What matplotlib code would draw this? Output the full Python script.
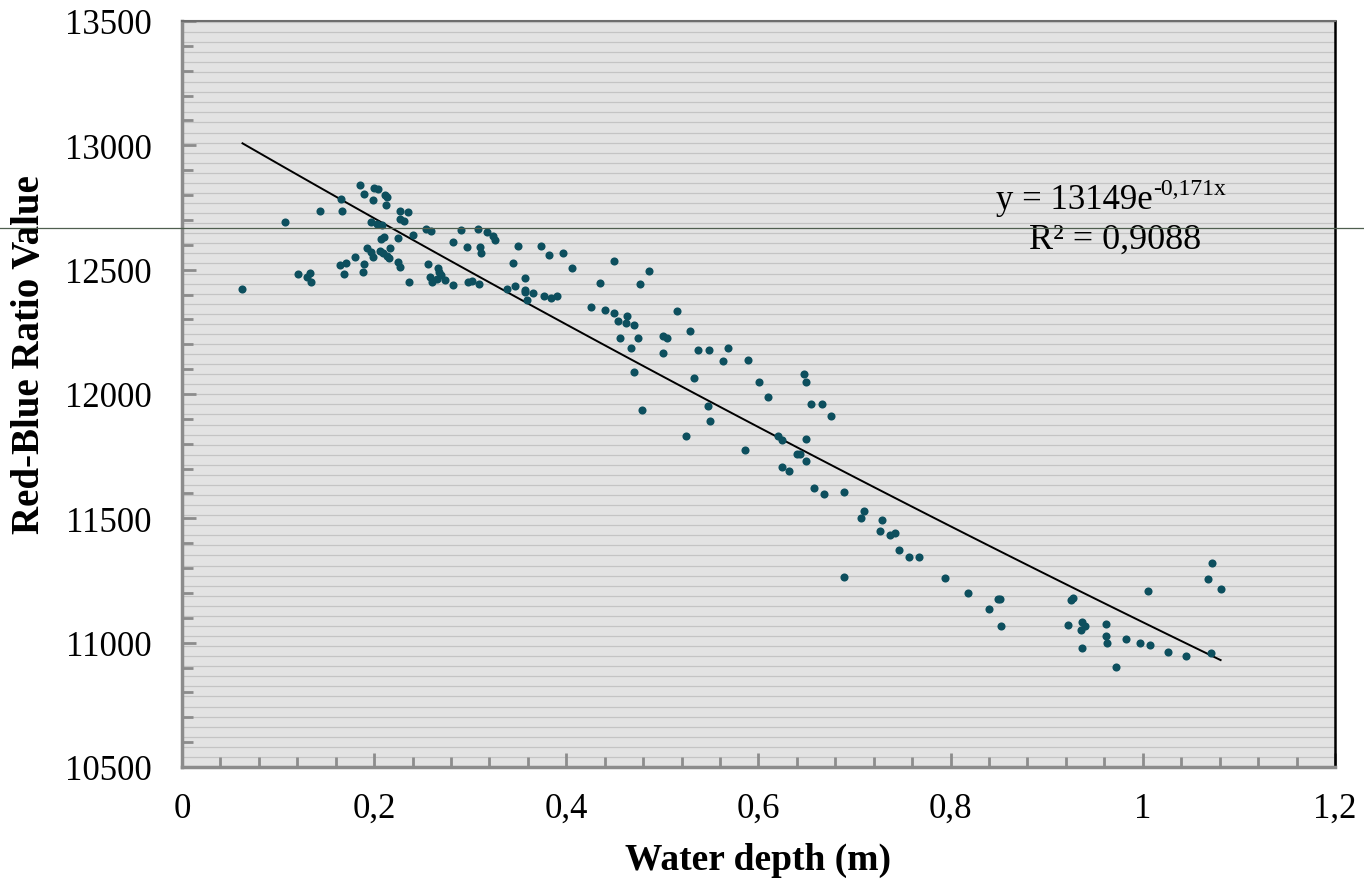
import numpy as np
import matplotlib.pyplot as plt
from matplotlib.lines import Line2D
from matplotlib.ticker import MultipleLocator

plt.rcParams['font.family'] = ['Liberation Serif', 'DejaVu Serif']

# water depth (m) and red-blue ratio values
depth = [0.063, 0.107, 0.121, 0.130, 0.133, 0.134, 0.144, 0.166, 0.167, 0.164,
         0.171, 0.169, 0.180, 0.185, 0.189, 0.189, 0.188, 0.193, 0.197, 0.199,
         0.197, 0.203, 0.208, 0.199, 0.200, 0.204, 0.211, 0.213, 0.212, 0.207,
         0.210, 0.206, 0.209, 0.213, 0.215, 0.217, 0.225, 0.227, 0.235, 0.227,
         0.231, 0.225, 0.227, 0.236, 0.240, 0.259, 0.254, 0.290, 0.318, 0.324,
         0.326, 0.308, 0.282, 0.297, 0.310, 0.311, 0.350, 0.374, 0.382, 0.397,
         0.345, 0.406, 0.256, 0.266, 0.268, 0.270, 0.274, 0.265, 0.258, 0.260,
         0.282, 0.298, 0.302, 0.309, 0.338, 0.347, 0.357, 0.357, 0.357, 0.365,
         0.359, 0.377, 0.384, 0.390, 0.450, 0.486, 0.435, 0.477, 0.426, 0.440,
         0.450, 0.463, 0.454, 0.462, 0.470, 0.456, 0.475, 0.467, 0.501, 0.505,
         0.501, 0.515, 0.529, 0.537, 0.533, 0.470, 0.479, 0.525, 0.549, 0.568,
         0.563, 0.589, 0.601, 0.548, 0.550, 0.586,
         0.610, 0.620, 0.625, 0.625, 0.632, 0.640, 0.643, 0.647, 0.649, 0.649,
         0.650, 0.655, 0.666, 0.676,
         0.658, 0.668, 0.689, 0.710, 0.707, 0.729, 0.727, 0.737, 0.742, 0.746,
         0.757, 0.767, 0.689, 0.794, 0.818, 0.840, 0.849, 0.851, 0.852, 0.922,
         0.925, 0.927, 0.937, 0.940, 0.936, 0.962, 0.962, 0.963, 0.937, 0.972,
         0.983, 0.997, 1.007, 1.026, 1.045, 1.071, 1.005, 1.068, 1.072, 1.081]
ratio = [12422, 12692, 12481, 12469, 12487, 12449, 12736, 12784, 12736, 12519,
         12527, 12484, 12551, 12840, 12803, 12523, 12489, 12588, 12572, 12550,
         12690, 12684, 12680, 12780, 12827, 12824, 12800, 12791, 12761, 12623,
         12631, 12576, 12567, 12556, 12546, 12588, 12626, 12736, 12731, 12704,
         12696, 12530, 12510, 12449, 12639, 12657, 12664, 12661, 12650, 12637,
         12619, 12664, 12610, 12591, 12590, 12568, 12596, 12596, 12559, 12567,
         12527, 12506, 12522, 12506, 12492, 12480, 12460, 12462, 12469, 12452,
         12440, 12452, 12453, 12441, 12422, 12434, 12467, 12418, 12409, 12407,
         12378, 12393, 12386, 12394, 12534, 12496, 12446, 12441, 12349, 12337,
         12325, 12314, 12295, 12287, 12279, 12225, 12225, 12186, 12232, 12226,
         12165, 12333, 12252, 12177, 12063, 12090, 11934, 11832, 12177, 12184,
         12133, 12137, 12049, 11953, 11891, 11776,
         11988, 11831, 11815, 11705, 11690, 11760, 11760, 12080, 12050, 11820,
         11730, 11960, 11960, 11910,
         11622, 11598, 11607, 11530, 11500, 11492, 11450, 11433, 11440, 11374,
         11345, 11343, 11263, 11260, 11200, 11137, 11174, 11176, 11066, 11071,
         11172, 11180, 11084, 11068, 11050, 11074, 11028, 10997, 10979, 10903,
         11014, 10999, 10992, 10964, 10948, 10959, 11208, 11257, 11322, 11216]

# exponential trend line shown on the chart
coef_a = 13149
coef_b = -0.171
eq_main = 'y = 13149e'
eq_exp = '-0,171x'
r2_text = 'R² = 0,9088'

fig = plt.figure(figsize=(13.64, 8.87), dpi=100)
ax = fig.add_axes([0.1334, 0.1342, 0.8453, 0.841])
ax.set_facecolor('#e3e3e3')

# plot area texture: fine horizontal lines
for yy in np.arange(10500, 13500, 40.5):
    ax.axhline(yy, color='#c4c4c4', lw=0.9, zorder=0)

ax.scatter(depth, ratio, s=34, color='#0d4f5e', zorder=3, linewidths=0)

xs = np.linspace(min(depth), max(depth), 100)
ax.plot(xs, coef_a * np.exp(coef_b * xs), color='black', lw=1.4, zorder=2)

t_eq = ax.text(0.8475, 12784, eq_main, fontsize=25, ha='left', va='center', zorder=4)
ax.annotate(eq_exp, xy=(1.0, 0.82), xycoords=t_eq, fontsize=17,
            ha='left', va='center', zorder=4)
ax.text(0.8818, 12623, r2_text, fontsize=26, ha='left', va='center', zorder=4)

ax.set_xlim(0, 1.2)
ax.set_ylim(10500, 13500)
ax.xaxis.set_major_locator(MultipleLocator(0.2))
ax.xaxis.set_minor_locator(MultipleLocator(0.04))
ax.yaxis.set_major_locator(MultipleLocator(500))
ax.yaxis.set_minor_locator(MultipleLocator(100))
ax.set_xticklabels(['0' if abs(v) < 1e-9 else ('%g' % v).replace('.', ',')
                    for v in ax.get_xticks()])
ax.set_yticklabels(['%d' % v for v in ax.get_yticks()])

ax.tick_params(which='both', direction='in', color='#8c8c8c', width=2,
               labelsize=25, top=False, right=False)
ax.tick_params(axis='y', which='major', length=10, pad=22)
ax.tick_params(axis='y', which='minor', length=8)
ax.tick_params(axis='x', which='major', length=10, pad=18)
ax.tick_params(axis='x', which='minor', length=7)

ax.spines['left'].set_color('#8c8c8c')
ax.spines['left'].set_linewidth(2.5)
ax.spines['bottom'].set_color('#8c8c8c')
ax.spines['bottom'].set_linewidth(2.5)
ax.spines['top'].set_color('#6e6e6e')
ax.spines['top'].set_linewidth(1.5)
ax.spines['right'].set_color('black')
ax.spines['right'].set_linewidth(1.8)

ax.set_xlabel('Water depth (m)', fontsize=27, fontweight='bold', labelpad=12)
ax.set_ylabel('Red-Blue Ratio Value', fontsize=28, fontweight='bold')
ax.yaxis.set_label_coords(-0.116, 0.554)

# stray rule across the whole picture
fig.add_artist(Line2D([0, 1], [0.7418, 0.7418], transform=fig.transFigure,
                      color='#4f5f4f', lw=0.9, zorder=10))

fig.savefig('out.png', dpi=100)
